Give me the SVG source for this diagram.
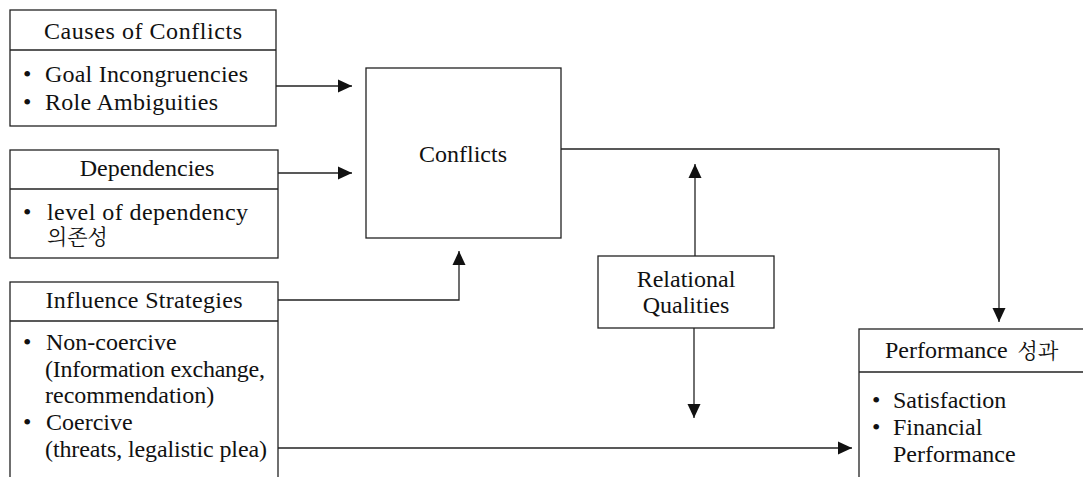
<svg xmlns="http://www.w3.org/2000/svg" width="1083" height="477" viewBox="0 0 1083 477">
<style>
.box{fill:#fff;stroke:#222;stroke-width:1.3}
.ln{fill:none;stroke:#222;stroke-width:1.3}
</style>
<defs>
<marker id="ah" markerUnits="userSpaceOnUse" markerWidth="14" markerHeight="14" viewBox="0 0 14 14" refX="14" refY="7" orient="auto">
<path d="M0,0.5 L14,7 L0,13.5 Z" fill="#111"/>
</marker>
</defs>
<rect width="1083" height="477" fill="#fff"/>
<g id="connectors">
<line class="ln" x1="276" y1="86" x2="352" y2="86" marker-end="url(#ah)"/>
<line class="ln" x1="278" y1="173" x2="352" y2="173" marker-end="url(#ah)"/>
<polyline class="ln" points="278,300 459,300 459,251" marker-end="url(#ah)"/>
<polyline class="ln" points="561,149 999,149 999,322" marker-end="url(#ah)"/>
<line class="ln" x1="695" y1="256" x2="695" y2="164" marker-end="url(#ah)"/>
<line class="ln" x1="694" y1="328" x2="694" y2="418" marker-end="url(#ah)"/>
<line class="ln" x1="278" y1="448" x2="852" y2="448" marker-end="url(#ah)"/>
</g>
<g font-family="Liberation Serif, Noto Serif CJK KR, serif" font-size="24" fill="#111">
<g id="causes">
<rect class="box" x="10" y="10" width="266" height="116"/>
<line class="ln" x1="10" y1="50" x2="276" y2="50"/>
<text x="143" y="39" text-anchor="middle" textLength="198" lengthAdjust="spacing">Causes of Conflicts</text>
<text x="23" y="82">•</text>
<text x="45" y="82" textLength="203" lengthAdjust="spacing">Goal Incongruencies</text>
<text x="23" y="110">•</text>
<text x="45" y="110" textLength="173" lengthAdjust="spacing">Role Ambiguities</text>
</g>
<g id="dependencies">
<rect class="box" x="10" y="150" width="268" height="108"/>
<line class="ln" x1="10" y1="189" x2="278" y2="189"/>
<text x="147" y="176" text-anchor="middle">Dependencies</text>
<text x="23" y="220">•</text>
<text x="47" y="220" textLength="201" lengthAdjust="spacing">level of dependency</text>
<text x="47" y="244" font-size="21">의존성</text>
</g>
<g id="influence">
<rect class="box" x="10" y="282" width="268" height="210"/>
<line class="ln" x1="10" y1="321" x2="278" y2="321"/>
<text x="144" y="308" text-anchor="middle" textLength="197" lengthAdjust="spacing">Influence Strategies</text>
<text x="23" y="350">•</text>
<text x="46" y="350">Non-coercive</text>
<text x="45" y="377" textLength="220" lengthAdjust="spacing">(Information exchange,</text>
<text x="45" y="403">recommendation)</text>
<text x="23" y="430">•</text>
<text x="46" y="430">Coercive</text>
<text x="45" y="457" textLength="222" lengthAdjust="spacing">(threats, legalistic plea)</text>
</g>
<g id="conflicts">
<rect class="box" x="366" y="68" width="195" height="170"/>
<text x="463" y="162" text-anchor="middle">Conflicts</text>
</g>
<g id="relational">
<rect class="box" x="598" y="256" width="176" height="72"/>
<text x="686" y="287" text-anchor="middle">Relational</text>
<text x="686" y="313" text-anchor="middle">Qualities</text>
</g>
<g id="performance">
<rect class="box" x="859" y="329" width="240" height="170"/>
<line class="ln" x1="859" y1="372" x2="1099" y2="372"/>
<text x="885" y="358">Performance <tspan font-size="21" dx="4">성과</tspan></text>
<text x="872" y="408">•</text>
<text x="893" y="408">Satisfaction</text>
<text x="872" y="435">•</text>
<text x="893" y="435">Financial</text>
<text x="893" y="462">Performance</text>
</g>
</g>
</svg>
